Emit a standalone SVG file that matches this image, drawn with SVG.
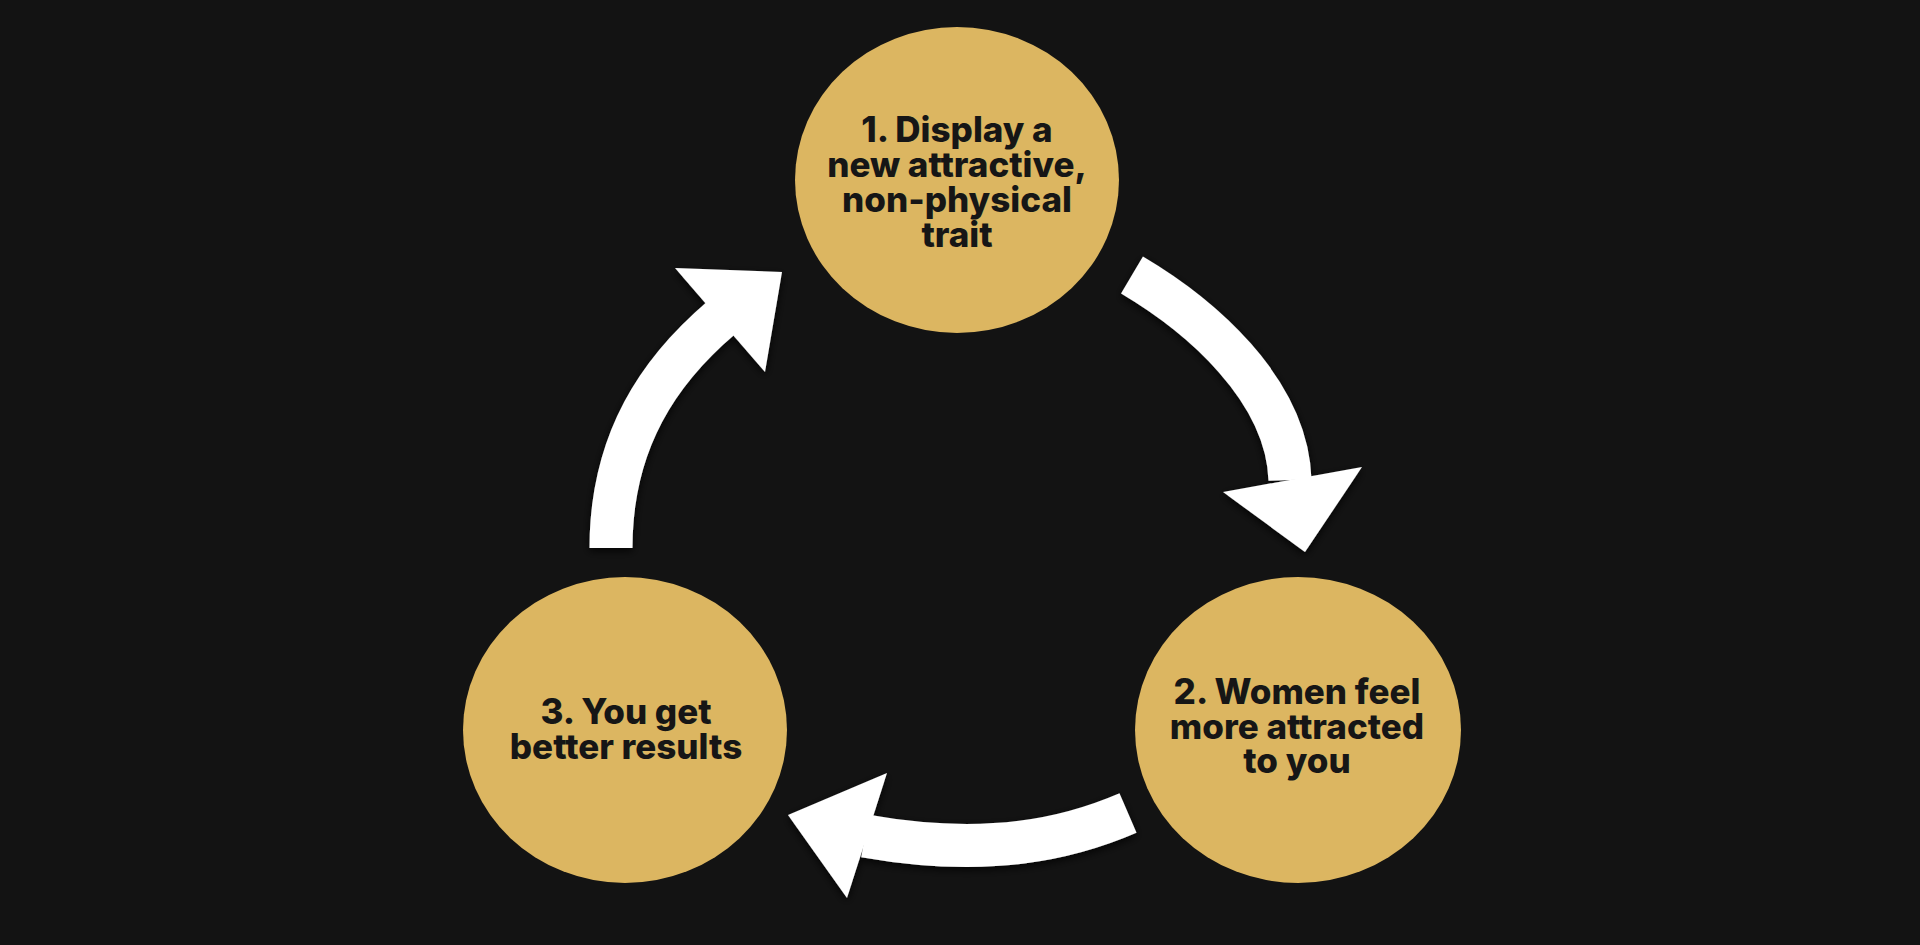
<svg xmlns="http://www.w3.org/2000/svg" width="1920" height="945" viewBox="0 0 1920 945">
<style>
.node ellipse{fill:#DCB661}
.node text{font-family:Inter,"Noto Sans","Liberation Sans",sans-serif;font-weight:800;font-size:35px;fill:#161616;text-anchor:middle}
.shaft{fill:none;stroke:#FFFFFF;stroke-width:43;stroke-linecap:butt}
.head{fill:#FFFFFF}
</style>
<defs>
<filter id="sh" x="-20%" y="-20%" width="140%" height="140%">
<feDropShadow dx="0" dy="3" stdDeviation="4" flood-color="#000000" flood-opacity="0.8"/>
</filter>
</defs>
<rect x="0" y="0" width="1920" height="945" fill="#131313"/>
<g id="connectors" filter="url(#sh)">
<g id="arrow-1-2">
<path class="shaft" d="M 1132 275 C 1198 314, 1287 388, 1290 480"/>
<polygon class="head" points="1223,492 1362,467 1305,552"/>
</g>
<g id="arrow-2-3">
<path class="shaft" d="M 1128 813 C 1070 838, 990 858, 865 836"/>
<polygon class="head" points="887,773 847,898 788,815"/>
</g>
<g id="arrow-3-1">
<path class="shaft" d="M 611 548 C 611 440, 660 370, 721 318"/>
<polygon class="head" points="675,268 782,272 765,372"/>
</g>
</g>
<g id="node-1" class="node">
<ellipse cx="957" cy="180" rx="162" ry="153"/>
<text x="957" y="142">1. Display a</text>
<text x="957" y="177">new attractive,</text>
<text x="957" y="212">non-physical</text>
<text x="957" y="247">trait</text>
</g>
<g id="node-2" class="node">
<ellipse cx="1298" cy="730" rx="163" ry="153"/>
<text x="1297" y="704">2. Women feel</text>
<text x="1297" y="739">more attracted</text>
<text x="1297" y="773">to you</text>
</g>
<g id="node-3" class="node">
<ellipse cx="625" cy="730" rx="162" ry="153"/>
<text x="626" y="724">3. You get</text>
<text x="626" y="759">better results</text>
</g>
</svg>
